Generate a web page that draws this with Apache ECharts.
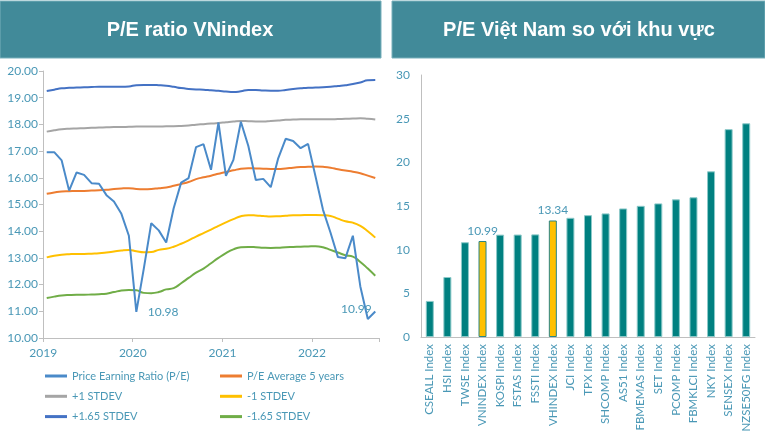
<!DOCTYPE html>
<html>
<head>
<meta charset="utf-8">
<script src="https://cdn.jsdelivr.net/npm/echarts@6/dist/echarts.min.js"></script>
<style>
html,body{margin:0;padding:0;background:#fff;}
#c{width:765px;height:436px;}
</style>
</head>
<body>
<div id="c"></div>
<script>
// ---- Left chart data (monthly, Jan 2019 - Sep 2022) ----
const months = [
 '2019-01','2019-02','2019-03','2019-04','2019-05','2019-06','2019-07','2019-08','2019-09','2019-10','2019-11','2019-12',
 '2020-01','2020-02','2020-03','2020-04','2020-05','2020-06','2020-07','2020-08','2020-09','2020-10','2020-11','2020-12',
 '2021-01','2021-02','2021-03','2021-04','2021-05','2021-06','2021-07','2021-08','2021-09','2021-10','2021-11','2021-12',
 '2022-01','2022-02','2022-03','2022-04','2022-05','2022-06','2022-07','2022-08','2022-09'
];
const peRatio = [16.96,16.96,16.65,15.52,16.20,16.11,15.80,15.78,15.35,15.11,14.65,13.83,
 10.98,12.60,14.30,14.03,13.58,14.86,15.82,15.99,17.15,17.26,16.30,18.07,
 16.07,16.67,18.10,17.19,15.92,15.96,15.65,16.73,17.46,17.38,17.11,17.27,
 16.05,14.80,13.95,13.03,12.99,13.83,11.93,10.71,10.99];
const pe5yAvg = [15.40,15.45,15.49,15.50,15.51,15.51,15.52,15.53,15.55,15.58,15.60,15.61,
 15.58,15.57,15.58,15.61,15.64,15.70,15.77,15.84,15.95,16.02,16.08,16.15,
 16.22,16.28,16.34,16.36,16.35,16.34,16.33,16.33,16.35,16.38,16.40,16.41,
 16.42,16.41,16.38,16.32,16.27,16.23,16.17,16.08,15.99];
const plus1Std = [17.73,17.78,17.82,17.84,17.85,17.86,17.87,17.88,17.89,17.90,17.90,17.91,
 17.92,17.92,17.92,17.92,17.93,17.93,17.94,17.96,17.99,18.01,18.03,18.05,
 18.08,18.11,18.13,18.12,18.11,18.11,18.13,18.15,18.17,18.18,18.19,18.19,
 18.19,18.19,18.19,18.20,18.21,18.22,18.23,18.21,18.18];
const plus165Std = [19.25,19.30,19.35,19.37,19.38,19.39,19.40,19.41,19.41,19.41,19.41,19.42,
 19.47,19.48,19.48,19.47,19.45,19.41,19.36,19.33,19.31,19.30,19.28,19.26,
 19.23,19.21,19.24,19.29,19.29,19.27,19.26,19.26,19.29,19.33,19.35,19.37,
 19.38,19.39,19.41,19.44,19.47,19.51,19.57,19.65,19.66];
const minus1Std = [13.02,13.08,13.12,13.14,13.15,13.15,13.16,13.17,13.20,13.24,13.28,13.30,
 13.25,13.21,13.22,13.30,13.34,13.42,13.53,13.66,13.80,13.93,14.06,14.20,
 14.33,14.45,14.56,14.60,14.59,14.57,14.55,14.56,14.58,14.60,14.60,14.61,
 14.61,14.60,14.57,14.47,14.37,14.32,14.20,14.00,13.76];
const minus165Std = [11.50,11.55,11.59,11.61,11.62,11.62,11.63,11.64,11.66,11.72,11.78,11.80,
 11.79,11.69,11.68,11.72,11.82,11.87,12.05,12.25,12.45,12.60,12.80,13.00,
 13.18,13.32,13.40,13.41,13.40,13.38,13.37,13.38,13.40,13.41,13.42,13.43,
 13.44,13.40,13.30,13.20,13.10,13.05,12.85,12.60,12.33];
const peLabelIdx = [12, 44];

// ---- Right chart data ----
const indices = ['CSEALL Index','HSI Index','TWSE Index','VNINDEX Index','KOSPI Index','FSTAS Index','FSSTI Index','VHINDEX Index','JCI Index','TPX Index','SHCOMP Index','AS51 Index','FBMEMAS Index','SET Index','PCOMP Index','FBMKLCI Index','NKY Index','SENSEX Index','NZSE50FG Index'];
const indexPE = [4.13,6.87,10.85,10.99,11.72,11.73,11.75,13.34,13.65,13.95,14.15,14.72,15.02,15.30,15.76,16.00,18.97,23.80,24.47];
const highlighted = ['VNINDEX Index','VHINDEX Index'];

const txt = '#4a98b6';
const font = 'Lato';
const axisGray = '#bfbfbf';

const chart = echarts.init(document.getElementById('c'), null, {renderer: 'canvas'});

function lineSeries(name, data, color, smooth) {
  return {
    name: name, type: 'line', xAxisIndex: 0, yAxisIndex: 0,
    data: data, smooth: smooth, showSymbol: false, symbol: 'none',
    lineStyle: {color: color, width: 2}, itemStyle: {color: color},
    emphasis: {disabled: true}, z: smooth ? 2 : 3
  };
}

const peData = peRatio.map((v, i) => {
  if (peLabelIdx.indexOf(i) < 0) return v;
  const isLast = i === peRatio.length - 1;
  return {
    value: v,
    symbol: 'circle', symbolSize: 1,
    itemStyle: {color: 'rgba(0,0,0,0)', borderWidth: 0},
    label: {
      show: true, position: isLast ? 'left' : 'right', distance: isLast ? 3 : 11,
      offset: isLast ? [0, -2] : [0, 0],
      color: txt, fontFamily: font, fontSize: 12,
      formatter: (p) => p.value.toFixed(2)
    }
  };
});

const peSeries = lineSeries('Price Earning Ratio (P/E)', peData, '#4a8ac9', false);
peSeries.showSymbol = true;
peSeries.showAllSymbol = true;
peSeries.clip = false;

const barData = indexPE.map((v, i) => {
  const hl = highlighted.indexOf(indices[i]) >= 0;
  return {
    value: v,
    itemStyle: hl ? {color: '#FFC000', borderColor: '#2a8585', borderWidth: 1}
                  : {color: '#008080', borderColor: '#8cc9c9', borderWidth: 1},
    label: hl ? {show: true, position: 'top', distance: 4, color: txt, fontFamily: font, fontSize: 12,
                 formatter: (p) => p.value.toFixed(2)} : {show: false}
  };
});

const legendText = {color: txt, fontFamily: font, fontSize: 11, lineHeight: 14};

const option = {
  animation: false,
  backgroundColor: '#ffffff',
  textStyle: {fontFamily: font},
  graphic: [
    {type: 'rect', shape: {x: 0, y: 1, width: 381, height: 57}, style: {fill: '#418a99', stroke: '#79b0bb', lineWidth: 1}, silent: true},
    {type: 'text', x: 190, y: 30, style: {text: 'P/E ratio VNindex', fill: '#ffffff', font: 'bold 20px "Liberation Sans", Arial, sans-serif', textAlign: 'center', textVerticalAlign: 'middle'}, silent: true},
    {type: 'rect', shape: {x: 392, y: 1, width: 373, height: 57}, style: {fill: '#418a99', stroke: '#79b0bb', lineWidth: 1}, silent: true},
    {type: 'text', x: 579, y: 30, style: {text: 'P/E Việt Nam so với khu vực', fill: '#ffffff', font: 'bold 20px "Liberation Sans", Arial, sans-serif', textAlign: 'center', textVerticalAlign: 'middle'}, silent: true}
  ],
  legend: [
    {
      orient: 'vertical', left: 45, top: 369, padding: 0, itemGap: 6.3, itemWidth: 22, itemHeight: 3, icon: 'rect',
      textStyle: legendText,
      data: ['Price Earning Ratio (P/E)', '+1 STDEV', '+1.65 STDEV'], selectedMode: false
    },
    {
      orient: 'vertical', left: 220, top: 369, padding: 0, itemGap: 6.3, itemWidth: 22, itemHeight: 3, icon: 'rect',
      textStyle: legendText,
      data: ['P/E Average 5 years', '-1 STDEV', '-1.65 STDEV'], selectedMode: false
    }
  ],
  grid: [
    {left: 43, top: 71, width: 336, height: 267, containLabel: false},
    {left: 421, top: 75, width: 334, height: 262, containLabel: false}
  ],
  xAxis: [
    {
      type: 'category', gridIndex: 0, data: months, boundaryGap: true,
      axisLine: {show: true, lineStyle: {color: axisGray, width: 1}},
      axisTick: {show: true, interval: 11, length: 4, lineStyle: {color: axisGray}},
      axisLabel: {interval: 11, color: txt, fontFamily: font, fontSize: 12, margin: 9,
        padding: [0, 7, 0, 0], formatter: (v) => v.slice(0, 4)},
      splitLine: {show: false}
    },
    {
      type: 'category', gridIndex: 1, data: indices,
      axisLine: {show: true, lineStyle: {color: axisGray, width: 1}},
      axisTick: {show: false},
      axisLabel: {interval: 0, rotate: 90, color: txt, fontFamily: font, fontSize: 11.5, margin: 7},
      splitLine: {show: false}
    }
  ],
  yAxis: [
    {
      type: 'value', gridIndex: 0, min: 10, max: 20, interval: 1,
      axisLine: {show: true, lineStyle: {color: axisGray, width: 1}},
      axisTick: {show: true, length: 4, lineStyle: {color: axisGray}},
      axisLabel: {color: txt, fontFamily: font, fontSize: 12, margin: 5, formatter: (v) => v.toFixed(2)},
      splitLine: {show: false}
    },
    {
      type: 'value', gridIndex: 1, min: 0, max: 30, interval: 5,
      axisLine: {show: true, lineStyle: {color: axisGray, width: 1}},
      axisTick: {show: false},
      axisLabel: {color: txt, fontFamily: font, fontSize: 12, margin: 11},
      splitLine: {show: false}
    }
  ],
  series: [
    peSeries,
    lineSeries('P/E Average 5 years', pe5yAvg, '#ED7D31', true),
    lineSeries('+1 STDEV', plus1Std, '#A5A5A5', true),
    lineSeries('-1 STDEV', minus1Std, '#FFC000', true),
    lineSeries('+1.65 STDEV', plus165Std, '#4472C4', true),
    lineSeries('-1.65 STDEV', minus165Std, '#70AD47', true),
    {
      name: 'P/E', type: 'bar', xAxisIndex: 1, yAxisIndex: 1, data: barData,
      barWidth: 8, emphasis: {disabled: true}
    }
  ]
};
chart.setOption(option);
</script>
</body>
</html>
